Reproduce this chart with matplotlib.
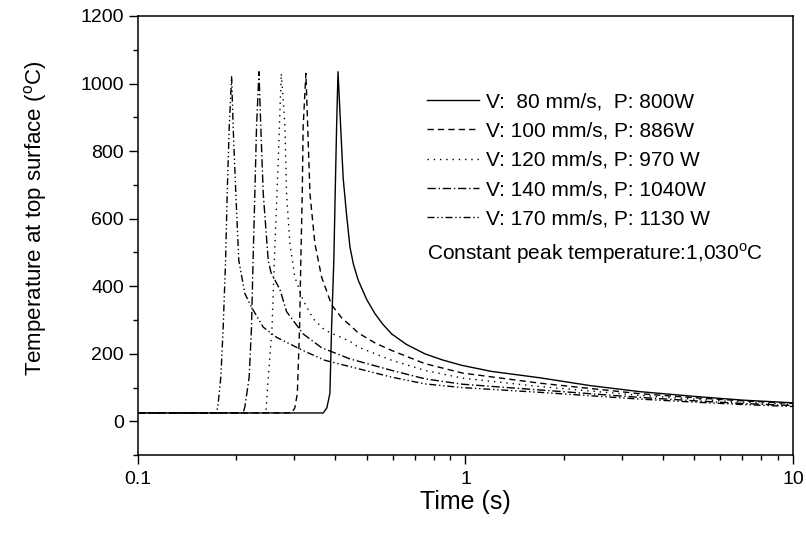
import numpy as np
import matplotlib.pyplot as plt
from matplotlib.ticker import LogLocator, NullFormatter, MultipleLocator, FixedLocator, FixedFormatter

plt.rcParams['font.family'] = ['Liberation Sans', 'DejaVu Sans']

# Daten
t_80 = [0.1, 0.368, 0.3775, 0.3857, 0.3903, 0.3965, 0.4003, 0.4043, 0.4083, 0.4137, 0.4234, 0.4338,
        0.4441, 0.455, 0.4706, 0.487, 0.5, 0.5292, 0.56, 0.5952, 0.66, 0.752, 0.85, 0.9736, 1.2, 1.69,
        2.4, 3.41, 5.0, 7.0, 10]
T_80 = [25, 25, 40, 83, 279, 477, 675, 872, 1035, 920, 720, 610,
        516, 465, 418, 385, 360, 319, 287, 259, 228, 200, 182, 166, 148, 129,
        106, 88, 74, 63, 55]

t_100 = [0.1, 0.2946, 0.3015, 0.3068, 0.3117, 0.3144, 0.3176, 0.3196, 0.3258, 0.330, 0.3352,
         0.3471, 0.3639, 0.3903, 0.42, 0.4441, 0.4706, 0.53, 0.5952, 0.752, 0.98, 1.69, 3.41, 5.0, 7.0, 10]
T_100 = [25, 25, 40, 83, 279, 477, 675, 872, 1030, 872, 675,
         526, 427, 345, 305, 285, 262, 232, 210, 171, 143, 113, 82, 70, 61, 53]

t_120 = [0.1, 0.246, 0.2482, 0.2568, 0.2600, 0.2640, 0.2683, 0.2715, 0.274, 0.2775, 0.2812, 0.2844,
         0.2911, 0.3015, 0.3196, 0.343, 0.372, 0.4441, 0.4706, 0.5952, 0.752, 0.98, 1.69, 3.41, 5.0, 7.0, 10]
T_120 = [25, 25, 83, 279, 427, 600, 773, 920, 1030, 960, 872, 675,
         526, 427, 358, 304, 270, 237, 220, 181, 151, 128, 103, 77, 66, 57, 50]

t_140 = [0.1, 0.2095, 0.2121, 0.2187, 0.2223, 0.2248, 0.2276, 0.2303, 0.2343, 0.2373, 0.2414,
         0.25, 0.255, 0.2716, 0.2844, 0.3196, 0.3639, 0.4441, 0.5952, 0.752, 0.98, 1.69, 3.41, 5.0, 7.0, 10]
T_140 = [25, 25, 42, 131, 279, 477, 675, 872, 1035, 872, 675,
         477, 440, 390, 325, 259, 218, 185, 151, 126, 110, 93, 71, 61, 53, 47]

t_170 = [0.1, 0.1739, 0.1758, 0.1792, 0.1822, 0.1853, 0.1874, 0.1901, 0.1933, 0.1954, 0.1991,
         0.2033, 0.2121, 0.2223, 0.2414, 0.265, 0.319, 0.372, 0.4706, 0.5952, 0.752, 0.98, 1.69,
         3.41, 5.0, 7.0, 10]
T_170 = [25, 25, 52, 131, 279, 477, 675, 872, 1020, 872, 675,
         477, 379, 338, 279, 249, 210, 181, 156, 131, 111, 100, 86,
         66, 57, 50, 44]

labels = ['V:  80 mm/s,  P: 800W', 'V: 100 mm/s, P: 886W', 'V: 120 mm/s, P: 970 W',
          'V: 140 mm/s, P: 1040W', 'V: 170 mm/s, P: 1130 W']

fig = plt.figure(figsize=(8.06, 5.33), dpi=100)
ax = fig.add_axes([0.171, 0.146, 0.813, 0.824])

lw = 1.0
ax.plot(t_80, T_80, color='black', lw=lw, linestyle='-', label=labels[0])
ax.plot(t_100, T_100, color='black', lw=lw, linestyle=(0, (4.5, 3)), label=labels[1])
ax.plot(t_120, T_120, color='black', lw=lw, linestyle=(0, (1, 3.5)), label=labels[2])
ax.plot(t_140, T_140, color='black', lw=lw, linestyle=(0, (6, 2, 1, 2)), label=labels[3])
ax.plot(t_170, T_170, color='black', lw=lw, linestyle=(0, (5, 2, 1, 2, 1, 2)), label=labels[4])

ax.set_xscale('log')
ax.set_xlim(0.1, 10)
ax.set_ylim(-100, 1200)

ax.xaxis.set_major_locator(FixedLocator([0.1, 1, 10]))
ax.xaxis.set_major_formatter(FixedFormatter(['0.1', '1', '10']))
ax.xaxis.set_minor_locator(LogLocator(base=10, subs=np.arange(2, 10)))
ax.xaxis.set_minor_formatter(NullFormatter())
ax.yaxis.set_major_locator(MultipleLocator(200))
ax.yaxis.set_minor_locator(MultipleLocator(100))

ax.tick_params(which='major', length=6.5, width=1, labelsize=14, direction='out')
ax.tick_params(axis='x', which='major', pad=5)
ax.tick_params(which='minor', length=3.5, width=1, direction='out')
for s in ax.spines.values():
    s.set_linewidth(1.1)

ax.set_xlabel('Time (s)', fontsize=18, labelpad=1)
ax.set_ylabel('Temperature at top surface ($^\\mathregular{o}$C)', fontsize=16)
ax.yaxis.set_label_coords(-0.135, 0.54)

leg = ax.legend(loc='upper left', bbox_to_anchor=(0.441, 0.826), frameon=False, fontsize=15,
                handlelength=2.5, handletextpad=0.35, labelspacing=0.49, borderpad=0, borderaxespad=0)

ax.text(0.441, 0.43, 'Constant peak temperature:1,030$^\\mathregular{o}$C', transform=ax.transAxes,
        fontsize=15, ha='left', va='bottom')

plt.savefig('out.png', dpi=100)
